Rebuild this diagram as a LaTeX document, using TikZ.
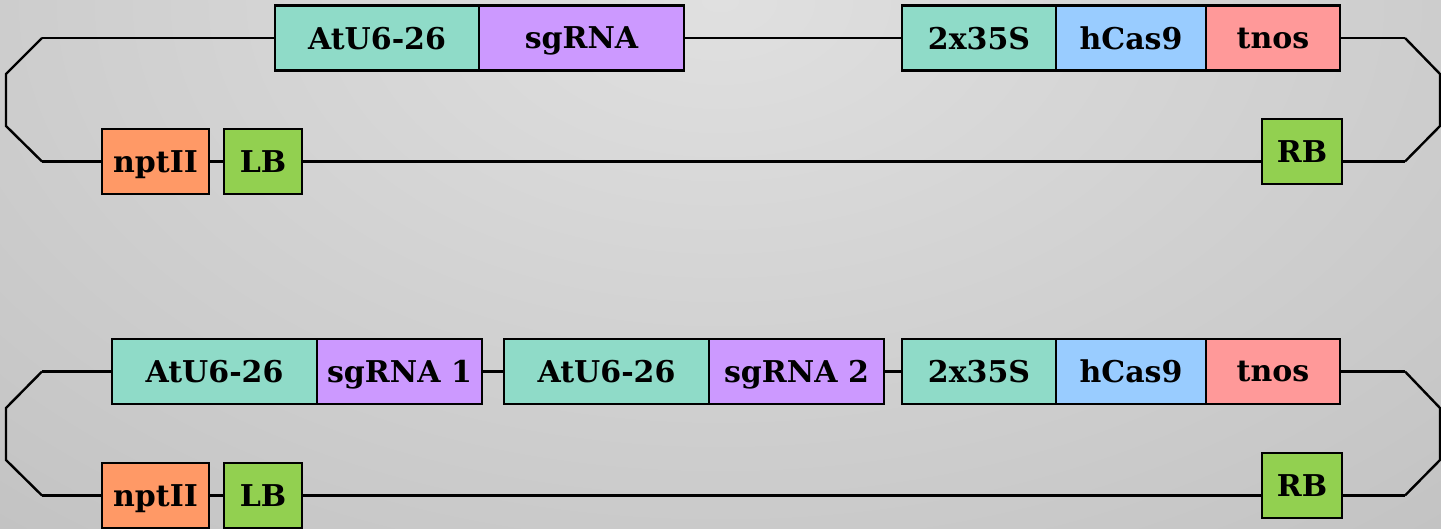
\documentclass[tikz,border=0pt]{standalone}
\usepackage{fontspec}
\setmainfont{DejaVu Serif}
\definecolor{bgin}{RGB}{224,224,224}
\definecolor{bgout}{RGB}{166,166,166}
\definecolor{teal}{RGB}{143,219,200}
\definecolor{purp}{RGB}{204,153,255}
\definecolor{lblue}{RGB}{153,204,255}
\definecolor{pink}{RGB}{255,153,153}
\definecolor{orng}{RGB}{255,153,102}
\definecolor{lgreen}{RGB}{146,208,80}
\pgfdeclareradialshading{bgshade}{\pgfpoint{0bp}{0bp}}{color(0bp)=(bgin); color(50bp)=(bgout)}
\newcommand{\boxfont}{\fontsize{30}{35}\selectfont\bfseries}
\begin{document}
\begin{tikzpicture}[x=1pt,y=-1pt,
  box/.style={draw=black, line width=2.4pt, minimum height=65pt, inner sep=0pt, font=\boxfont, text depth=0pt},
  wire/.style={draw=black, line width=2.4pt, line join=miter}]
\useasboundingbox (0,0) rectangle (1441,529);
\begin{scope}
\clip (0,0) rectangle (1441,529);
\shade[shading=bgshade] (720,0) ellipse [x radius=1100, y radius=700];
\end{scope}

% ---------- row 1 ----------
\coordinate (k1a) at (42,38);
\coordinate (k1b) at (6,74);
\coordinate (k1c) at (6,126);
\coordinate (k1d) at (42,161.5);
\coordinate (m1a) at (1405,38);
\coordinate (m1b) at (1440,74);
\coordinate (m1c) at (1440,126);
\coordinate (m1d) at (1405,161.5);

\draw[wire] (m1a) -- (m1b) -- (m1c) -- (m1d);
\draw[wire] (k1a) -- (k1b) -- (k1c) -- (k1d);

\node[box, fill=teal, minimum width=204pt] (a1) at (377,38) {AtU6-26};
\node[box, fill=purp, minimum width=205pt] (s1) at (581.5,38) {sgRNA};
\node[box, fill=teal, minimum width=154pt] (p1) at (979,38) {2x35S};
\node[box, fill=lblue, minimum width=150pt] (c1) at (1131,38) {hCas9};
\node[box, fill=pink, minimum width=134pt] (t1) at (1273,38) {tnos};
\node[box, fill=orng, minimum width=107pt] (n1) at (155.5,161.5) {nptII};
\node[box, fill=lgreen, minimum width=78pt] (l1) at (263,161.5) {LB};
\node[box, fill=lgreen, minimum width=80pt] (r1) at (1302,151.5) {RB};

\draw[wire] (k1a) -- (a1.west);
\draw[wire] (s1.east) -- (p1.west);
\draw[wire] (t1.east) -- (m1a);
\draw[wire] (k1d) -- (n1.west);
\draw[wire] (n1.east) -- (l1.west);
\draw[wire] (l1.east) -- (l1.east -| r1.west);
\draw[wire] (m1d -| r1.east) -- (m1d);

% ---------- row 2 ----------
\coordinate (k2a) at (42,371.5);
\coordinate (k2b) at (6,408);
\coordinate (k2c) at (6,460);
\coordinate (k2d) at (42,495.5);
\coordinate (m2a) at (1405,371.5);
\coordinate (m2b) at (1440,408);
\coordinate (m2c) at (1440,460);
\coordinate (m2d) at (1405,495.5);

\draw[wire] (m2a) -- (m2b) -- (m2c) -- (m2d);
\draw[wire] (k2a) -- (k2b) -- (k2c) -- (k2d);

\node[box, fill=teal, minimum width=205pt] (a2) at (214.5,371.5) {AtU6-26};
\node[box, fill=purp, minimum width=165pt] (s2) at (399.5,371.5) {sgRNA 1};
\node[box, fill=teal, minimum width=205pt] (a3) at (606.5,371.5) {AtU6-26};
\node[box, fill=purp, minimum width=175pt] (s3) at (796.5,371.5) {sgRNA 2};
\node[box, fill=teal, minimum width=154pt] (p2) at (979,371.5) {2x35S};
\node[box, fill=lblue, minimum width=150pt] (c2) at (1131,371.5) {hCas9};
\node[box, fill=pink, minimum width=134pt] (t2) at (1273,371.5) {tnos};
\node[box, fill=orng, minimum width=107pt] (n2) at (155.5,495.5) {nptII};
\node[box, fill=lgreen, minimum width=78pt] (l2) at (263,495.5) {LB};
\node[box, fill=lgreen, minimum width=80pt] (r2) at (1302,485.5) {RB};

\draw[wire] (k2a) -- (a2.west);
\draw[wire] (s2.east) -- (a3.west);
\draw[wire] (s3.east) -- (p2.west);
\draw[wire] (t2.east) -- (m2a);
\draw[wire] (k2d) -- (n2.west);
\draw[wire] (n2.east) -- (l2.west);
\draw[wire] (l2.east) -- (l2.east -| r2.west);
\draw[wire] (m2d -| r2.east) -- (m2d);
\end{tikzpicture}
\end{document}
